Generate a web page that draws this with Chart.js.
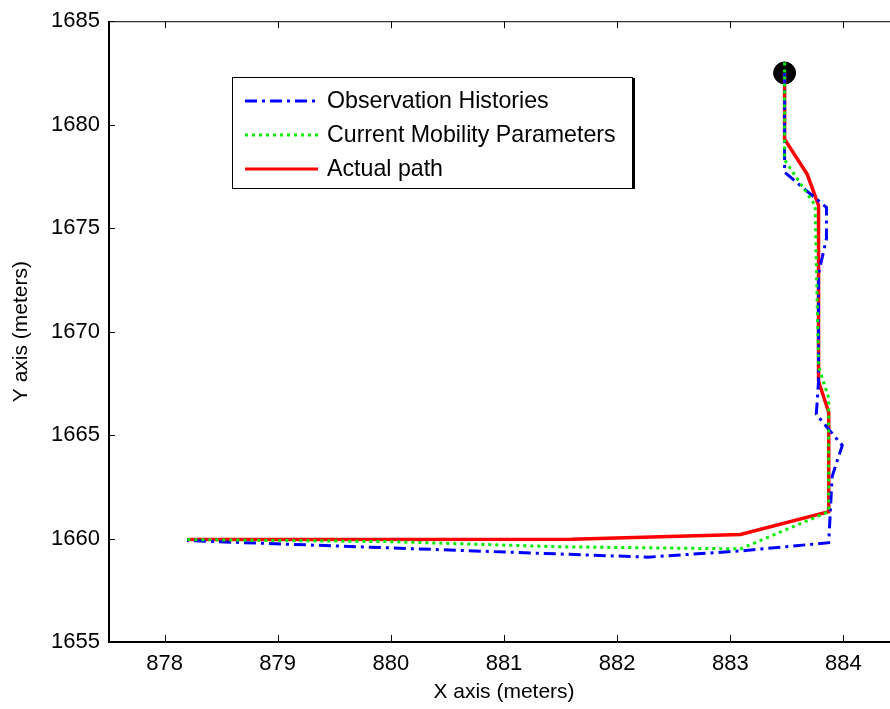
<!DOCTYPE html>
<html>
<head>
<meta charset="utf-8">
<script src="https://cdn.jsdelivr.net/npm/chart.js@4.4.1/dist/chart.umd.min.js"></script>
<style>
  html, body { margin: 0; padding: 0; background: #fff; overflow: hidden; }
  #wrap { width: 912px; height: 709px; }
</style>
</head>
<body>
<div id="wrap"><canvas id="pathChart" width="912" height="709"></canvas></div>
<script>
// Trayectorias (metros)
const obsX = [883.48, 883.48, 883.85, 883.85, 883.78, 883.78, 883.76, 883.99, 883.9, 883.87, 883.09, 882.27, 878.2];
const obsY = [1682.5, 1677.7, 1676.0, 1674.5, 1672.8, 1667.6, 1666.0, 1664.5, 1663.0, 1659.8, 1659.4, 1659.1, 1659.9];

const mobX = [883.48, 883.48, 883.48, 883.75, 883.78, 883.87, 883.87, 883.09, 881.5, 880.0, 878.2];
const mobY = [1683.0, 1679.4, 1678.3, 1676.1, 1668.3, 1666.8, 1661.3, 1659.5, 1659.6, 1659.85, 1659.95];

const actX = [883.48, 883.48, 883.68, 883.78, 883.78, 883.87, 883.87, 883.09, 881.6, 878.2];
const actY = [1682.5, 1679.3, 1677.6, 1676.1, 1667.6, 1666.1, 1661.3, 1660.2, 1659.97, 1659.95];

const startX = [883.48];
const startY = [1682.5];

const xTicks = [878, 879, 880, 881, 882, 883, 884];
const yTicks = [1655, 1660, 1665, 1670, 1675, 1680, 1685];

const seriesNames = ['Observation Histories', 'Current Mobility Parameters', 'Actual path'];

const toPoints = (xs, ys) => xs.map((x, i) => ({ x: x, y: ys[i] }));
const FONT = '"Liberation Sans", Arial, sans-serif';

// Marco tipo MATLAB con marcas hacia dentro + leyenda
const matlabFrame = {
  id: 'matlabFrame',
  afterDraw(chart) {
    const { ctx, chartArea: a, scales } = chart;
    ctx.save();
    ctx.strokeStyle = '#000';
    ctx.lineWidth = 1;
    ctx.strokeRect(a.left + 0.5, a.top + 0.5, a.right - a.left, a.bottom - a.top);
    ctx.lineWidth = 2;
    ctx.beginPath();
    ctx.moveTo(a.left + 1, a.top);
    ctx.lineTo(a.left + 1, a.bottom);
    ctx.lineTo(a.right, a.bottom);
    ctx.stroke();

    ctx.lineWidth = 1;
    ctx.beginPath();
    xTicks.forEach(v => {
      const px = Math.round(scales.x.getPixelForValue(v)) + 0.5;
      ctx.moveTo(px, a.bottom); ctx.lineTo(px, a.bottom - 7);
      ctx.moveTo(px, a.top); ctx.lineTo(px, a.top + 7);
    });
    yTicks.forEach(v => {
      const py = Math.round(scales.y.getPixelForValue(v)) + 0.5;
      ctx.moveTo(a.left, py); ctx.lineTo(a.left + 7, py);
      ctx.moveTo(a.right, py); ctx.lineTo(a.right - 7, py);
    });
    ctx.stroke();

    // leyenda
    const lx = 232, ly = 77, lw = 400, lh = 111;
    ctx.fillStyle = '#fff';
    ctx.fillRect(lx, ly, lw, lh);
    ctx.strokeStyle = '#000';
    ctx.lineWidth = 1;
    ctx.strokeRect(lx + 0.5, ly + 0.5, lw, lh);
    ctx.lineWidth = 2;
    ctx.beginPath();
    ctx.moveTo(lx + lw + 2, ly + 1);
    ctx.lineTo(lx + lw + 2, ly + lh + 1);
    ctx.stroke();

    const styles = [
      { color: '#0000ff', dash: [12, 5, 3, 5], width: 3 },
      { color: '#00ee00', dash: [3, 4], width: 3 },
      { color: '#ff0000', dash: [], width: 3 }
    ];
    ctx.font = '23.2px ' + FONT;
    ctx.textBaseline = 'middle';
    ctx.textAlign = 'left';
    seriesNames.forEach((name, i) => {
      const yy = 101 + i * 34;
      ctx.strokeStyle = styles[i].color;
      ctx.lineWidth = styles[i].width;
      ctx.setLineDash(styles[i].dash);
      ctx.beginPath();
      ctx.moveTo(245, yy); ctx.lineTo(318, yy);
      ctx.stroke();
      ctx.setLineDash([]);
      ctx.fillStyle = '#000';
      ctx.fillText(name, 327, yy + 1);
    });
    ctx.restore();
  }
};

new Chart(document.getElementById('pathChart'), {
  type: 'scatter',
  data: {
    datasets: [
      {
        label: 'start',
        data: toPoints(startX, startY),
        pointRadius: 11,
        pointBackgroundColor: '#000',
        pointBorderColor: '#000',
        showLine: false,
        order: 4
      },
      {
        label: seriesNames[2],
        data: toPoints(actX, actY),
        showLine: true,
        borderColor: '#ff0000',
        borderWidth: 3.5,
        pointRadius: 0,
        order: 3
      },
      {
        label: seriesNames[0],
        data: toPoints(obsX, obsY),
        showLine: true,
        borderColor: '#0000ff',
        borderWidth: 3,
        borderDash: [12, 5, 3, 5],
        pointRadius: 0,
        order: 2
      },
      {
        label: seriesNames[1],
        data: toPoints(mobX, mobY),
        showLine: true,
        borderColor: '#00ee00',
        borderWidth: 3,
        borderDash: [3, 4],
        pointRadius: 0,
        order: 1
      }
    ]
  },
  options: {
    responsive: false,
    animation: false,
    layout: { padding: { top: 21, right: 5, left: 0, bottom: 0 } },
    plugins: {
      legend: { display: false },
      tooltip: { enabled: false }
    },
    scales: {
      x: {
        type: 'linear',
        min: 877.5,
        max: 884.5,
        afterBuildTicks: s => { s.ticks = xTicks.map(v => ({ value: v })); },
        afterFit: s => { s.height = 67; },
        grid: { display: false, drawTicks: false },
        border: { display: false },
        ticks: { color: '#000', font: { family: FONT, size: 22 }, padding: 9, maxRotation: 0, callback: v => String(v) },
        title: {
          display: true,
          text: 'X axis (meters)',
          color: '#000',
          font: { family: FONT, size: 21 },
          padding: { top: 0, bottom: 4 }
        }
      },
      y: {
        type: 'linear',
        min: 1655,
        max: 1685,
        afterBuildTicks: s => { s.ticks = yTicks.map(v => ({ value: v })); },
        afterFit: s => { s.width = 108; },
        grid: { display: false, drawTicks: false },
        border: { display: false },
        ticks: { color: '#000', font: { family: FONT, size: 22 }, padding: 8, callback: v => String(v) },
        title: {
          display: true,
          text: 'Y axis (meters)',
          color: '#000',
          font: { family: FONT, size: 21 },
          padding: { top: 9, bottom: 0 }
        }
      }
    }
  },
  plugins: [matlabFrame]
});
</script>
</body>
</html>
